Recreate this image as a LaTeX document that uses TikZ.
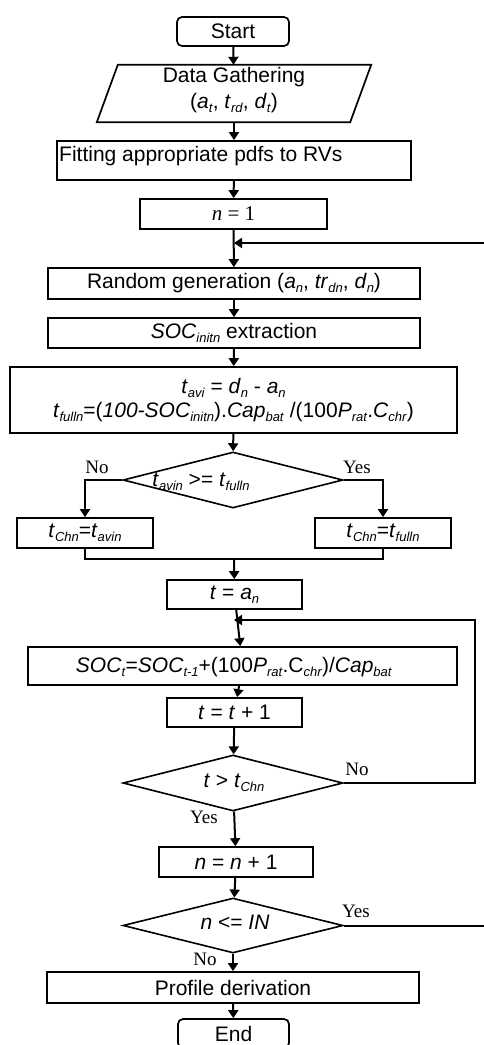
\documentclass[tikz,border=0pt]{standalone}
\usepackage{fontspec}
\setmainfont{Liberation Sans}
\newfontfamily\tnr{Liberation Serif}
\usetikzlibrary{arrows.meta,shapes.geometric}
\newcommand{\sbs}[1]{\raisebox{-0.35ex}{\fontsize{13}{13}\selectfont #1}}
\begin{document}
\begin{tikzpicture}[x=1pt,y=-1pt,
  box/.style={draw, line width=1.7pt, inner sep=0pt, font=\fontsize{21}{26}\selectfont},
  txt/.style={inner sep=0pt, font=\fontsize{21}{26}\selectfont},
  dia/.style={draw, diamond, line width=1.6pt, inner sep=0pt, minimum width=220pt, minimum height=56pt},
  lbl/.style={inner sep=0pt, font=\tnr\fontsize{19}{20}\selectfont},
  arr/.style={line width=2pt, -{Triangle[length=8pt,width=10pt]}},
  ln/.style={line width=2pt}]
\useasboundingbox (0,0) rectangle (484,1045);
% nodes
\node[box, rounded corners=5pt, minimum width=112pt, minimum height=29pt] (start) at (233,31.5) {Start};
\node[inner sep=0pt, minimum width=253pt, minimum height=57pt, align=center, font=\fontsize{21}{26}\selectfont] (data) at (234,93.5) {};
\draw[line width=1.7pt] ([xshift=10.5pt]data.north west) -- ([xshift=10.5pt]data.north east)
  -- ([xshift=-10.5pt]data.south east) -- ([xshift=-10.5pt]data.south west) -- cycle;
\node[txt, align=center] (datatxt) at (234,90) {Data Gathering\\(\textit{a}\sbs{\textit{t}}, \textit{t}\sbs{\textit{rd}}, \textit{d}\sbs{\textit{t}})};
\node[box, minimum width=354pt, minimum height=39pt] (fit) at (234,160.5) {};
\node[txt, anchor=west] (fittxt) at (59,156) {Fitting appropriate pdfs to RVs};
\node[box, minimum width=187pt, minimum height=30pt, font=\tnr\fontsize{21}{24}\selectfont] (n1) at (233.5,214) {\textit{n} = 1};
\coordinate (j1) at (234,243);
\coordinate (r1) at (488,243);
\node[box, minimum width=372pt, minimum height=31pt] (rand) at (234,283.5) {Random generation (\textit{a}\sbs{\textit{n}}, \textit{tr}\sbs{\textit{dn}}, \textit{d}\sbs{\textit{n}})};
\node[box, minimum width=372pt, minimum height=30pt] (soc) at (234,333) {\textit{SOC}\sbs{\textit{initn}} extraction};
\node[box, minimum width=447pt, minimum height=66pt, align=center, font=\fontsize{21}{24}\selectfont] (form) at (233.5,400)
  {\textit{t}\sbs{\textit{avi}} = \textit{d}\sbs{\textit{n}} - \textit{a}\sbs{\textit{n}}\\
   \textit{t}\sbs{\textit{fulln}}=(\textit{100-SOC}\sbs{\textit{initn}}).\textit{Cap}\sbs{\textit{bat}} /(100\textit{P}\sbs{\textit{rat}}.\textit{C}\sbs{\textit{chr}})};
\node[dia] (d1) at (233,480) {};
\node[txt] (d1txt) at (201,482) {\textit{t}\sbs{\textit{avin}} >= \textit{t}\sbs{\textit{fulln}}};
\node[lbl] (no1) at (97,467) {No};
\node[lbl] (yes1) at (357,467) {Yes};
\node[box, minimum width=136pt, minimum height=30pt] (lb) at (85,533) {\textit{t}\sbs{\textit{Chn}}=\textit{t}\sbs{\textit{avin}}};
\node[box, minimum width=136pt, minimum height=30pt] (rb) at (383,533) {\textit{t}\sbs{\textit{Chn}}=\textit{t}\sbs{\textit{fulln}}};
\coordinate (m) at (234,559);
\node[box, minimum width=135pt, minimum height=29pt] (ta) at (234.5,594.5) {\textit{t} = \textit{a}\sbs{\textit{n}}};
\coordinate (j2) at (234,620);
\node[box, minimum width=429pt, minimum height=38pt] (soct) at (242.5,666) {};
\node[txt] (socttxt) at (234,667) {\textit{SOC}\sbs{\textit{t}}=\textit{SOC}\sbs{\textit{t-1}}+(100\textit{P}\sbs{\textit{rat}}.C\sbs{\textit{chr}})/\textit{Cap}\sbs{\textit{bat}}};
\node[box, minimum width=135pt, minimum height=29pt] (tt) at (234.5,712.5) {\textit{t} = \textit{t} + 1};
\node[dia] (d2) at (233,783) {};
\node[txt] (d2txt) at (234,783) {\textit{t} > \textit{t}\sbs{\textit{Chn}}};
\node[lbl] (no2) at (357,769) {No};
\node[lbl] (yes2) at (204,817) {Yes};
\coordinate (r2a) at (475,783);
\coordinate (r2b) at (475,620);
\node[box, minimum width=154pt, minimum height=30pt] (nn) at (236,862) {\textit{n} = \textit{n} + 1};
\node[dia, minimum height=55pt] (d3) at (233,925.5) {};
\node[txt] (d3txt) at (235,922) {\textit{n} <= \textit{IN}};
\node[lbl] (yes3) at (356,911) {Yes};
\node[lbl] (no3) at (205,959) {No};
\coordinate (r3) at (488,925.5);
\node[box, minimum width=372pt, minimum height=31pt] (prof) at (233,987.5) {Profile derivation};
\node[box, rounded corners=5pt, minimum width=111pt, minimum height=29pt] (end) at (233.5,1033.5) {End};
% connectors
\draw[arr] (start) -- (data);
\draw[arr] (data) -- (fit);
\draw[arr] (fit) -- (n1);
\draw[arr] (n1) -- (rand);
\draw[arr] (r1) -- (j1);
\draw[arr] (rand) -- (soc);
\draw[arr] (soc) -- (form);
\draw[arr] (form) -- (d1);
\draw[arr] (d1.west) -| (lb.north);
\draw[arr] (d1.east) -| (rb.north);
\draw[ln] (lb.south) |- (m) -| (rb.south);
\draw[arr] (m) -- (ta);
\draw[arr] (ta) -- (soct);
\draw[arr] (soct) -- (tt);
\draw[arr] (tt) -- (d2);
\draw[arr] (d2.east) -- (r2a) -- (r2b) -- (j2);
\draw[arr] (d2) -- (nn);
\draw[arr] (nn) -- (d3);
\draw[ln] (d3.east) -- (r3) -- (r1);
\draw[arr] (d3) -- (prof);
\draw[arr] (prof) -- (end);
\end{tikzpicture}
\end{document}
